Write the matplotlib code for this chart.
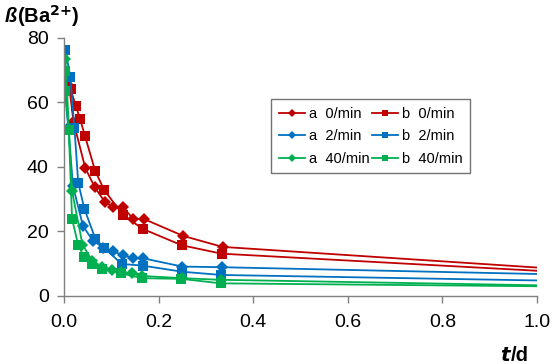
import matplotlib
matplotlib.use("Agg")
import matplotlib.pyplot as plt
import numpy as np

plt.rcParams['font.family'] = ['Liberation Sans', 'DejaVu Sans']

# time in days
t_a0 = [0.002, 0.011, 0.020, 0.045, 0.065, 0.086, 0.104, 0.125, 0.146, 0.168, 0.252, 0.335, 1.0]
v_a0 = [66.0, 65.0, 54.0, 39.6, 33.7, 29.2, 27.6, 27.5, 23.9, 23.9, 18.6, 15.2, 8.8]

t_b0 = [0.014, 0.025, 0.034, 0.044, 0.066, 0.085, 0.124, 0.166, 0.249, 0.333, 1.0]
v_b0 = [64.0, 58.9, 54.8, 49.7, 38.7, 32.8, 25.2, 20.8, 15.7, 13.1, 7.8]

t_a2 = [0.0, 0.009, 0.019, 0.040, 0.061, 0.083, 0.104, 0.124, 0.145, 0.166, 0.250, 0.334, 1.0]
v_a2 = [66.8, 52.0, 34.0, 21.7, 17.1, 15.0, 13.8, 12.7, 11.7, 11.7, 9.1, 8.9, 6.8]

t_b2 = [0.003, 0.013, 0.022, 0.030, 0.043, 0.066, 0.084, 0.122, 0.166, 0.250, 0.332, 1.0]
v_b2 = [76.3, 68.0, 52.0, 35.1, 27.0, 17.8, 15.0, 9.9, 9.4, 7.5, 6.5, 4.8]

t_a40 = [0.003, 0.017, 0.039, 0.060, 0.081, 0.102, 0.121, 0.143, 0.164, 0.250, 0.332, 1.0]
v_a40 = [73.4, 32.5, 15.9, 10.8, 9.1, 8.1, 7.3, 7.0, 6.2, 5.5, 5.0, 3.3]

t_b40 = [0.001, 0.003, 0.010, 0.017, 0.030, 0.042, 0.060, 0.081, 0.121, 0.164, 0.247, 0.332, 1.0]
v_b40 = [69.6, 63.4, 51.5, 23.9, 15.7, 12.2, 9.8, 8.3, 7.0, 5.5, 5.3, 3.9, 3.0]

red = '#C00000'
blue = '#0070C0'
green = '#00B050'

fig = plt.figure(figsize=(5.52, 3.64), dpi=100)
ax = fig.add_axes([0.116, 0.187, 0.857, 0.709])

series = [
    (t_a0, v_a0, red, 'D', 'a  0/min', 6.5),
    (t_b0, v_b0, red, 's', 'b  0/min', 7.5),
    (t_a2, v_a2, blue, 'D', 'a  2/min', 6.5),
    (t_b2, v_b2, blue, 's', 'b  2/min', 7.5),
    (t_a40, v_a40, green, 'D', 'a  40/min', 6.5),
    (t_b40, v_b40, green, 's', 'b  40/min', 7.5),
]
handles = {}
for t, v, c, m, lab, ms in series:
    h, = ax.plot(t, v, color=c, marker=m, markersize=ms, linewidth=1.3,
                 label=lab, markeredgewidth=0,
                 markevery=list(range(len(t) - 1)))
    handles[lab] = h

order = ['a  0/min', 'a  2/min', 'a  40/min', 'b  0/min', 'b  2/min', 'b  40/min']

ax.set_xlim(0, 1.0)
ax.set_ylim(0, 80)
ax.set_xticks(np.arange(0, 1.01, 0.2))
ax.set_xticklabels(['0.0', '0.2', '0.4', '0.6', '0.8', '1.0'])
ax.set_yticks([0, 20, 40, 60, 80])
for s in ['top', 'right']:
    ax.spines[s].set_visible(False)
for s in ['left', 'bottom']:
    ax.spines[s].set_color('#808080')
    ax.spines[s].set_linewidth(1.0)
ax.tick_params(axis='both', colors='#808080', labelcolor='black', labelsize=14,
               direction='out', length=5, width=1.0)
ax.tick_params(axis='x', pad=8)
ax.tick_params(axis='y', pad=6)

leg = ax.legend([handles[k] for k in order], order, ncol=2, loc='upper left',
                bbox_to_anchor=(0.423, 0.79), fontsize=10.5, frameon=True,
                fancybox=False, edgecolor='#505050', handlelength=1.8,
                markerscale=0.65, columnspacing=0.2, handletextpad=0.25,
                borderpad=0.5, labelspacing=0.6)
leg.get_frame().set_linewidth(1.0)

fig.text(0.008, 0.955, 'ß', fontsize=14.5, fontweight='bold', style='italic', va='center')
fig.text(0.031, 0.955, '(Ba$^{\\mathbf{2{+}}}$)', fontsize=14.5, fontweight='bold', va='center')
fig.text(0.905, 0.022, '$\\mathbfit{t}$', fontsize=14.5, va='center')
fig.text(0.926, 0.022, '/d', fontsize=14.5, fontweight='bold', va='center')

fig.savefig('out.png', dpi=100)
